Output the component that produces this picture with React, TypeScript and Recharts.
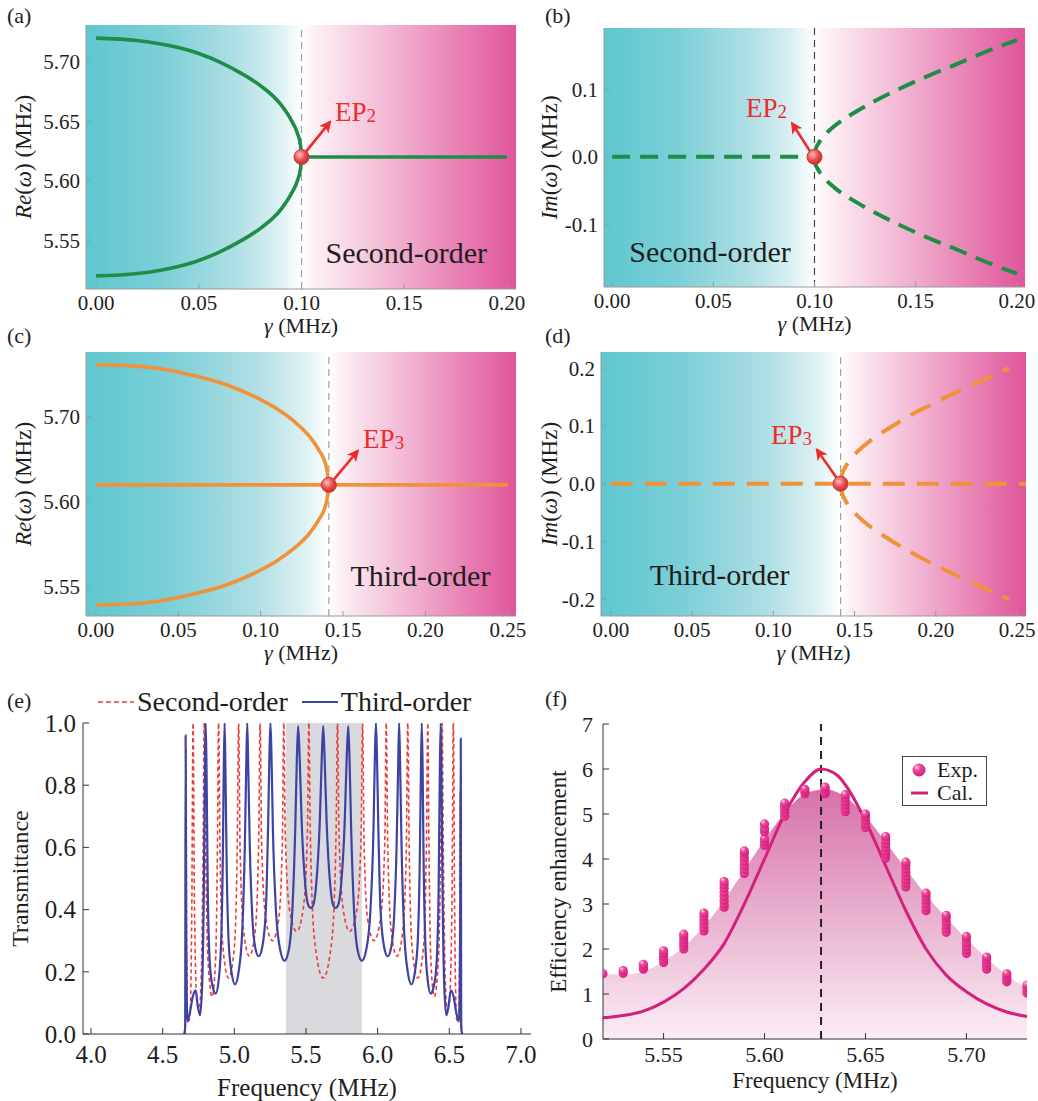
import React from 'react';
import {
  ComposedChart,
  Line,
  Area,
  Scatter,
  XAxis,
  YAxis,
  ReferenceArea,
  ReferenceLine,
  ReferenceDot,
  Legend,
} from 'recharts';

type Pt = [number, number];
type Box = [number, number, number, number];

const SERIF = '"Liberation Serif", "Times New Roman", Times, serif';
const INK = '#1e1e1e';
const EP_RED = '#ee2a2a';
const GREEN = '#1f8d48';
const ORANGE = '#f0923a';
const CAL_COLOR = '#d4207d';

// ---- (a) Re(w), second order
const A_UPPER: Pt[] = [[0, 5.72], [0.02, 5.718], [0.04, 5.712], [0.05, 5.707], [0.06, 5.7], [0.07, 5.691], [0.08, 5.68], [0.09, 5.664], [0.095, 5.651], [0.098, 5.64], [0.0995, 5.63], [0.1, 5.62]];
const A_LOWER: Pt[] = [[0, 5.52], [0.02, 5.522], [0.04, 5.528], [0.05, 5.533], [0.06, 5.54], [0.07, 5.549], [0.08, 5.56], [0.09, 5.576], [0.095, 5.589], [0.098, 5.6], [0.0995, 5.61], [0.1, 5.62]];
const A_FLAT: Pt[] = [[0.1, 5.62], [0.2, 5.62]];

// ---- (b) Im(w), second order
const B_FLAT: Pt[] = [[0, 0], [0.1, 0]];
const B_UPPER: Pt[] = [[0.1, 0], [0.1005, 0.01], [0.102, 0.02], [0.105, 0.032], [0.11, 0.046], [0.12, 0.066], [0.13, 0.083], [0.14, 0.098], [0.15, 0.112], [0.16, 0.125], [0.17, 0.137], [0.18, 0.15], [0.19, 0.162], [0.2, 0.173]];
const B_LOWER: Pt[] = [[0.1, 0], [0.1005, -0.01], [0.102, -0.02], [0.105, -0.032], [0.11, -0.046], [0.12, -0.066], [0.13, -0.083], [0.14, -0.098], [0.15, -0.112], [0.16, -0.125], [0.17, -0.137], [0.18, -0.15], [0.19, -0.162], [0.2, -0.173]];

// ---- (c) Re(w), third order
const C_UPPER: Pt[] = [[0, 5.761], [0.02, 5.76], [0.04, 5.756], [0.06, 5.748], [0.08, 5.737], [0.1, 5.72], [0.11, 5.709], [0.12, 5.695], [0.13, 5.676], [0.135, 5.662], [0.14, 5.64], [0.1414, 5.62]];
const C_LOWER: Pt[] = [[0, 5.479], [0.02, 5.48], [0.04, 5.484], [0.06, 5.492], [0.08, 5.503], [0.1, 5.52], [0.11, 5.531], [0.12, 5.545], [0.13, 5.564], [0.135, 5.578], [0.14, 5.6], [0.1414, 5.62]];
const C_FLAT: Pt[] = [[0, 5.62], [0.25, 5.62]];

// ---- (d) Im(w), third order
const D_FLAT: Pt[] = [[0, 0], [0.2555, 0]];
const D_UPPER: Pt[] = [[0.1414, 0], [0.142, 0.013], [0.145, 0.032], [0.15, 0.05], [0.16, 0.075], [0.17, 0.094], [0.18, 0.111], [0.19, 0.127], [0.2, 0.141], [0.21, 0.155], [0.22, 0.168], [0.23, 0.181], [0.245, 0.2]];
const D_LOWER: Pt[] = [[0.1414, 0], [0.142, -0.013], [0.145, -0.032], [0.15, -0.05], [0.16, -0.075], [0.17, -0.094], [0.18, -0.111], [0.19, -0.127], [0.2, -0.141], [0.21, -0.155], [0.22, -0.168], [0.23, -0.181], [0.245, -0.2]];

const GAMMA_TICKS_2 = [0, 0.05, 0.1, 0.15, 0.2];
const GAMMA_LABELS_2 = ['0.00', '0.05', '0.10', '0.15', '0.20'];
const GAMMA_TICKS_3 = [0, 0.05, 0.1, 0.15, 0.2, 0.25];
const GAMMA_LABELS_3 = ['0.00', '0.05', '0.10', '0.15', '0.20', '0.25'];
const A_Y_TICKS = [5.55, 5.6, 5.65, 5.7];
const A_Y_LABELS = ['5.55', '5.60', '5.65', '5.70'];
const B_Y_TICKS = [-0.1, 0, 0.1];
const B_Y_LABELS = ['-0.1', '0.0', '0.1'];
const C_Y_TICKS = [5.5, 5.6, 5.7];
const C_Y_LABELS = ['5.55', '5.60', '5.70'];
const D_Y_TICKS = [-0.2, -0.1, 0, 0.1, 0.2];
const D_Y_LABELS = ['-0.2', '-0.1', '0.0', '0.1', '0.2'];

// ---- (e) transmittance spectra
const E_SECOND: Pt[] = [
  [4.655, 0], [4.66, 0.1], [4.663, 0.92], [4.667, 0.3], [4.675, 0.04], [4.69, 0.05], [4.703, 0.4], [4.712, 1.0],
  [4.722, 0.4], [4.74, 0.1], [4.755, 0.08], [4.77, 0.2], [4.782, 0.6], [4.79, 1.0], [4.8, 0.6], [4.815, 0.25],
  [4.845, 0.12], [4.87, 0.25], [4.882, 0.6], [4.89, 1.0], [4.9, 0.6], [4.92, 0.28], [4.96, 0.18], [5.0, 0.28],
  [5.02, 0.6], [5.03, 1.0], [5.04, 0.6], [5.065, 0.33], [5.105, 0.25], [5.145, 0.33], [5.17, 0.62], [5.18, 1.0],
  [5.19, 0.62], [5.22, 0.37], [5.265, 0.3], [5.31, 0.37], [5.335, 0.62], [5.345, 1.0], [5.355, 0.65], [5.385, 0.4],
  [5.435, 0.33], [5.48, 0.4], [5.51, 0.65], [5.52, 1.0], [5.53, 0.65], [5.56, 0.3], [5.62, 0.18], [5.68, 0.3],
  [5.71, 0.65], [5.72, 1.0], [5.73, 0.65], [5.76, 0.4], [5.805, 0.33], [5.855, 0.4], [5.885, 0.65], [5.895, 1.0],
  [5.905, 0.62], [5.93, 0.37], [5.975, 0.3], [6.02, 0.37], [6.05, 0.62], [6.06, 1.0], [6.07, 0.62], [6.095, 0.33],
  [6.135, 0.25], [6.175, 0.33], [6.2, 0.6], [6.21, 1.0], [6.22, 0.6], [6.24, 0.28], [6.28, 0.18], [6.32, 0.28],
  [6.34, 0.6], [6.35, 1.0], [6.358, 0.6], [6.37, 0.25], [6.395, 0.12], [6.425, 0.25], [6.44, 0.6], [6.45, 1.0],
  [6.458, 0.6], [6.47, 0.2], [6.485, 0.08], [6.5, 0.1], [6.518, 0.4], [6.528, 1.0], [6.537, 0.4], [6.55, 0.05],
  [6.565, 0.04], [6.572, 0.3], [6.577, 0.78], [6.582, 0.1], [6.588, 0],
];
const E_THIRD: Pt[] = [
  [4.65, 0], [4.657, 0.02], [4.66, 0.96], [4.664, 0.35], [4.672, 0.04], [4.69, 0.07], [4.71, 0.12], [4.73, 0.14],
  [4.745, 0.09], [4.76, 0.06], [4.775, 0.15], [4.788, 0.5], [4.795, 0.85], [4.8, 1.0], [4.806, 0.85], [4.815, 0.45],
  [4.83, 0.22], [4.85, 0.15], [4.87, 0.13], [4.89, 0.17], [4.908, 0.3], [4.92, 0.58], [4.926, 0.85], [4.932, 1.0],
  [4.938, 0.85], [4.946, 0.56], [4.96, 0.3], [4.98, 0.2], [5.005, 0.16], [5.03, 0.2], [5.055, 0.33], [5.073, 0.6],
  [5.083, 0.86], [5.09, 1.0], [5.097, 0.86], [5.108, 0.6], [5.125, 0.38], [5.145, 0.28], [5.17, 0.25], [5.195, 0.28],
  [5.22, 0.4], [5.236, 0.68], [5.245, 0.9], [5.252, 1.0], [5.259, 0.9], [5.269, 0.66], [5.29, 0.4], [5.32, 0.27],
  [5.35, 0.235], [5.38, 0.27], [5.405, 0.4], [5.425, 0.66], [5.436, 0.88], [5.445, 0.99], [5.455, 0.9], [5.47, 0.68],
  [5.495, 0.48], [5.515, 0.415], [5.533, 0.405], [5.551, 0.415], [5.571, 0.48], [5.596, 0.68], [5.611, 0.9],
  [5.62, 0.99], [5.629, 0.9], [5.644, 0.68], [5.669, 0.48], [5.689, 0.415], [5.707, 0.405], [5.725, 0.415],
  [5.745, 0.48], [5.77, 0.68], [5.785, 0.9], [5.795, 0.99], [5.804, 0.88], [5.815, 0.66], [5.835, 0.4], [5.86, 0.27],
  [5.89, 0.235], [5.92, 0.27], [5.95, 0.4], [5.971, 0.66], [5.981, 0.9], [5.988, 1.0], [5.995, 0.9], [6.004, 0.68],
  [6.02, 0.4], [6.045, 0.28], [6.07, 0.25], [6.095, 0.28], [6.115, 0.38], [6.132, 0.6], [6.143, 0.86], [6.15, 1.0],
  [6.157, 0.86], [6.167, 0.6], [6.185, 0.33], [6.21, 0.2], [6.235, 0.16], [6.26, 0.2], [6.28, 0.3], [6.294, 0.56],
  [6.302, 0.85], [6.308, 1.0], [6.314, 0.85], [6.32, 0.58], [6.332, 0.3], [6.35, 0.17], [6.37, 0.13], [6.39, 0.15],
  [6.41, 0.22], [6.425, 0.45], [6.434, 0.85], [6.44, 1.0], [6.445, 0.85], [6.452, 0.5], [6.465, 0.15], [6.48, 0.06],
  [6.495, 0.09], [6.51, 0.14], [6.53, 0.12], [6.548, 0.07], [6.568, 0.04], [6.576, 0.35], [6.58, 0.95], [6.583, 0.02],
  [6.59, 0],
];
const E_X_TICKS = [4, 4.5, 5, 5.5, 6, 6.5, 7];
const E_X_LABELS = ['4.0', '4.5', '5.0', '5.5', '6.0', '6.5', '7.0'];
const E_Y_TICKS = [0, 0.2, 0.4, 0.6, 0.8, 1];
const E_Y_LABELS = ['0.0', '0.2', '0.4', '0.6', '0.8', '1.0'];
const E_BAND: Pt = [5.36, 5.89];

// ---- (f) efficiency enhancement
const F_CAL: Pt[] = [
  [5.52, 0.47], [5.53, 0.52], [5.54, 0.62], [5.55, 0.82], [5.56, 1.12], [5.57, 1.55], [5.58, 2.12], [5.59, 3.0],
  [5.6, 4.0], [5.61, 5.0], [5.62, 5.72], [5.628, 6.0], [5.636, 5.86], [5.64, 5.65], [5.65, 4.85], [5.66, 3.85],
  [5.67, 2.85], [5.68, 2.0], [5.69, 1.42], [5.7, 1.05], [5.71, 0.78], [5.72, 0.6], [5.73, 0.5],
];
const F_ENVELOPE: Pt[] = [
  [5.52, 1.45], [5.53, 1.43], [5.54, 1.5], [5.55, 1.72], [5.56, 2.05], [5.57, 2.5], [5.58, 3.08], [5.59, 3.75],
  [5.6, 4.42], [5.61, 5.02], [5.62, 5.45], [5.63, 5.55], [5.64, 5.38], [5.65, 4.95], [5.66, 4.38], [5.67, 3.78],
  [5.68, 3.2], [5.69, 2.7], [5.7, 2.22], [5.71, 1.8], [5.72, 1.42], [5.73, 1.12],
];
const F_EXP_FREQ = [5.52, 5.53, 5.54, 5.55, 5.56, 5.57, 5.58, 5.59, 5.6, 5.61, 5.62, 5.63, 5.64, 5.65, 5.66, 5.67, 5.68, 5.69, 5.7, 5.71, 5.72, 5.73];
const F_EXP_VALUES = [
  [1.45],
  [1.46, 1.52],
  [1.55, 1.6, 1.66],
  [1.7, 1.77, 1.84, 1.9, 1.96],
  [2.0, 2.07, 2.14, 2.2, 2.27, 2.33],
  [2.4, 2.48, 2.56, 2.64, 2.72, 2.8],
  [2.93, 3.0, 3.08, 3.17, 3.26, 3.35, 3.43, 3.5],
  [3.68, 3.77, 3.86, 3.95, 4.04, 4.13, 4.18],
  [4.3, 4.38, 4.45, 4.6, 4.68, 4.78],
  [4.95, 5.03, 5.1, 5.17, 5.24],
  [5.45, 5.5, 5.55],
  [5.45, 5.5, 5.56, 5.6],
  [5.05, 5.12, 5.2, 5.28, 5.36, 5.43],
  [4.7, 4.78, 4.86, 4.94, 5.0],
  [4.02, 4.1, 4.18, 4.26, 4.34, 4.42, 4.5],
  [3.38, 3.46, 3.54, 3.62, 3.7, 3.78, 3.86, 3.93],
  [2.85, 2.93, 3.01, 3.09, 3.17, 3.24],
  [2.37, 2.45, 2.53, 2.61, 2.69, 2.75],
  [1.9, 1.98, 2.06, 2.14, 2.22, 2.28],
  [1.55, 1.62, 1.69, 1.76, 1.82],
  [1.27, 1.33, 1.39, 1.45],
  [1.02, 1.08, 1.14, 1.2],
];
const F_PEAK = 5.628;
const F_X_TICKS = [5.55, 5.6, 5.65, 5.7];
const F_X_LABELS = ['5.55', '5.60', '5.65', '5.70'];
const F_Y_TICKS = [0, 1, 2, 3, 4, 5, 6, 7];
const F_Y_LABELS = ['0', '1', '2', '3', '4', '5', '6', '7'];

const toRows = (pts: Pt[]) => pts.map(([x, v]) => ({ g: x, v }));

// tick text drawn by hand so that the serif face and size stick
const makeTick = (ticks: number[], labels: string[], size: number, side: 'bottom' | 'left') => (tp: any) => {
  const value = tp?.payload?.value;
  const i = ticks.indexOf(value);
  const text = i >= 0 ? labels[i] : '';
  return (
    <text
      x={tp.x}
      y={tp.y}
      dy={side === 'bottom' ? '0.71em' : '0.35em'}
      textAnchor={side === 'bottom' ? 'middle' : 'end'}
      fontFamily={SERIF}
      fontSize={size}
      fill={INK}
    >
      {text}
    </text>
  );
};

const xTitle = (dy: number, size: number, body: React.ReactNode) => (lp: any) => {
  const vb = lp.viewBox ?? {};
  return (
    <text x={vb.x + vb.width / 2} y={vb.y + dy} dy="0.35em" textAnchor="middle" fontFamily={SERIF} fontSize={size} fill={INK}>
      {body}
    </text>
  );
};

const yTitle = (offset: number, size: number, body: React.ReactNode) => (lp: any) => {
  const vb = lp.viewBox ?? {};
  const cx = vb.x + vb.width - offset;
  const cy = vb.y + vb.height / 2;
  return (
    <text x={cx} y={cy} dy="0.35em" transform={`rotate(-90 ${cx} ${cy})`} textAnchor="middle" fontFamily={SERIF} fontSize={size} fill={INK}>
      {body}
    </text>
  );
};

const gammaTitle = (
  <>
    <tspan fontStyle="italic">γ</tspan> (MHz)
  </>
);

interface EigenProps {
  id: string;
  box: Box;
  frame: Box;
  xDomain: [number, number];
  yDomain: [number, number];
  xTicks: number[];
  xLabels: string[];
  yTicks: number[];
  yLabels: string[];
  solid: Pt[][];
  dashed: Pt[][];
  color: string;
  dash: string;
  ep: Pt;
  arrow: [Pt, Pt];
  epLabel: Pt;
  epAnchor: 'start' | 'end';
  epSub: string;
  region: Pt;
  regionText: string;
  yPart: string;
  yTitleOffset: number;
  guide: string;
}

function EigenPanel(p: EigenProps) {
  const [bl, bt, br, bb] = p.box;
  const [fl, ft, fr, fb] = p.frame;
  const [x0, x1] = p.xDomain;
  const [y0, y1] = p.yDomain;
  const frameColor = '#9a9a9a';
  return (
    <div style={{ position: 'absolute', left: bl, top: bt }}>
      <ComposedChart width={br - bl} height={bb - bt} margin={{ top: ft - bt, right: br - fr, bottom: 0, left: 0 }}>
        <defs>
          <linearGradient id={`${p.id}-cyan`} x1="0" y1="0" x2="1" y2="0">
            <stop offset="0" stopColor="#5ec7d0" />
            <stop offset="0.35" stopColor="#7ccfd7" />
            <stop offset="0.7" stopColor="#b0dfe5" />
            <stop offset="0.9" stopColor="#dcf1f3" />
            <stop offset="1" stopColor="#ffffff" />
          </linearGradient>
          <linearGradient id={`${p.id}-pink`} x1="0" y1="0" x2="1" y2="0">
            <stop offset="0" stopColor="#ffffff" />
            <stop offset="0.05" stopColor="#fdf2f6" />
            <stop offset="1" stopColor="#e0559a" />
          </linearGradient>
          <radialGradient id={`${p.id}-ep`} cx="0.38" cy="0.35" r="0.7">
            <stop offset="0" stopColor="#ffc0c0" />
            <stop offset="0.55" stopColor="#ea4a4a" />
            <stop offset="1" stopColor="#c42a2a" />
          </radialGradient>
          <marker id={`${p.id}-head`} markerWidth="12" markerHeight="12" refX="10" refY="6" orient="auto" markerUnits="userSpaceOnUse">
            <path d="M0,0 L12,6 L0,12 L3,6 Z" fill={EP_RED} />
          </marker>
        </defs>
        <XAxis
          type="number"
          dataKey="g"
          domain={p.xDomain}
          allowDataOverflow
          ticks={p.xTicks}
          interval={0}
          tick={makeTick(p.xTicks, p.xLabels, 21, 'bottom')}
          tickSize={-5}
          tickMargin={11}
          stroke={frameColor}
          height={bb - fb}
          label={xTitle(36, 22, gammaTitle)}
        />
        <XAxis xAxisId="top" orientation="top" type="number" domain={p.xDomain} allowDataOverflow ticks={p.xTicks} interval={0} tick={false} tickSize={-5} stroke={frameColor} height={0} />
        <YAxis
          type="number"
          dataKey="v"
          domain={p.yDomain}
          allowDataOverflow
          ticks={p.yTicks}
          interval={0}
          tick={makeTick(p.yTicks, p.yLabels, 21, 'left')}
          tickSize={-5}
          tickMargin={11}
          stroke={frameColor}
          width={fl - bl}
          label={yTitle(p.yTitleOffset, 23, (
            <>
              <tspan fontStyle="italic">{p.yPart}</tspan>(<tspan fontStyle="italic">ω</tspan>) (MHz)
            </>
          ))}
        />
        <YAxis yAxisId="right" orientation="right" type="number" domain={p.yDomain} allowDataOverflow ticks={p.yTicks} interval={0} tick={false} tickSize={-5} stroke={frameColor} width={0} />

        <ReferenceArea x1={x0} x2={p.ep[0]} y1={y0} y2={y1} fill={`url(#${p.id}-cyan)`} fillOpacity={1} stroke="none" />
        <ReferenceArea x1={p.ep[0]} x2={x1} y1={y0} y2={y1} fill={`url(#${p.id}-pink)`} fillOpacity={1} stroke="none" />
        <ReferenceLine x={p.ep[0]} stroke={p.guide} strokeDasharray="7 5" strokeWidth={1.2} />

        {p.solid.map((seg, i) => (
          <Line key={`s${i}`} data={toRows(seg)} dataKey="v" type="monotone" stroke={p.color} strokeWidth={3.6} dot={false} activeDot={false} isAnimationActive={false} />
        ))}
        {p.dashed.map((seg, i) => (
          <Line key={`d${i}`} data={toRows(seg)} dataKey="v" type="monotone" stroke={p.color} strokeWidth={4} strokeDasharray={p.dash} dot={false} activeDot={false} isAnimationActive={false} />
        ))}

        <ReferenceDot x={p.ep[0]} y={p.ep[1]} r={7.5} fill={`url(#${p.id}-ep)`} fillOpacity={1} stroke="#c83a3a" strokeWidth={1} />
        <ReferenceLine
          segment={[{ x: p.arrow[0][0], y: p.arrow[0][1] }, { x: p.arrow[1][0], y: p.arrow[1][1] }]}
          shape={(lp: any) => (
            <line x1={lp.x1} y1={lp.y1} x2={lp.x2} y2={lp.y2} stroke={EP_RED} strokeWidth={2.6} markerEnd={`url(#${p.id}-head)`} />
          )}
        />
        <ReferenceDot
          x={p.epLabel[0]}
          y={p.epLabel[1]}
          r={0}
          shape={(dp: any) => (
            <text x={dp.cx} y={dp.cy} dy="0.35em" textAnchor={p.epAnchor} fontFamily={SERIF} fontSize={27} fill={EP_RED}>
              EP<tspan fontSize={19} dy={1}>{p.epSub}</tspan>
            </text>
          )}
        />
        <ReferenceDot
          x={p.region[0]}
          y={p.region[1]}
          r={0}
          shape={(dp: any) => (
            <text x={dp.cx} y={dp.cy} dy="0.35em" textAnchor="middle" fontFamily={SERIF} fontSize={30} fill={INK}>
              {p.regionText}
            </text>
          )}
        />
      </ComposedChart>
    </div>
  );
}

const E_LEGEND_DASH = ['5 3', undefined];

const renderTransLegend = (props: any) => (
  <div style={{ display: 'inline-flex', alignItems: 'center', fontFamily: SERIF, fontSize: 28, color: INK, whiteSpace: 'nowrap', lineHeight: '32px' }}>
    {(props.payload ?? []).map((entry: any, i: number) => (
      <span key={String(entry.value)} style={{ display: 'inline-flex', alignItems: 'center', marginRight: 14 }}>
        <svg width={36} height={10}>
          <line x1={0} y1={5} x2={36} y2={5} stroke={entry.color} strokeWidth={i === 0 ? 1.6 : 2.2} strokeDasharray={E_LEGEND_DASH[i]} />
        </svg>
        <span style={{ marginLeft: 3 }}>{entry.value}</span>
      </span>
    ))}
  </div>
);

function TransmittancePanel() {
  const box: Box = [0, 660, 540, 1101];
  const frame: Box = [83, 723, 531, 1034];
  const frameColor = '#333333';
  return (
    <div style={{ position: 'absolute', left: box[0], top: box[1] }}>
      <ComposedChart width={box[2] - box[0]} height={box[3] - box[1]} margin={{ top: frame[1] - box[1], right: box[2] - frame[2], bottom: 0, left: 0 }}>
        <XAxis type="number" dataKey="g" domain={[3.944, 7.07]} allowDataOverflow ticks={E_X_TICKS} interval={0} tick={makeTick(E_X_TICKS, E_X_LABELS, 25, 'bottom')} tickSize={-6} tickMargin={17} stroke={frameColor} height={box[3] - frame[3]} label={xTitle(53, 25, 'Frequency (MHz)')} />
        <XAxis xAxisId="top" orientation="top" type="number" domain={[3.944, 7.07]} allowDataOverflow ticks={E_X_TICKS} interval={0} tick={false} tickSize={-6} stroke={frameColor} height={0} />
        <YAxis type="number" dataKey="v" domain={[0, 1]} allowDataOverflow ticks={E_Y_TICKS} interval={0} tick={makeTick(E_Y_TICKS, E_Y_LABELS, 25, 'left')} tickSize={-6} tickMargin={13} stroke={frameColor} width={frame[0] - box[0]} label={yTitle(63, 24, 'Transmittance')} />
        <YAxis yAxisId="right" orientation="right" type="number" domain={[0, 1]} allowDataOverflow ticks={E_Y_TICKS} interval={0} tick={false} tickSize={-6} stroke={frameColor} width={0} />
        <ReferenceArea x1={E_BAND[0]} x2={E_BAND[1]} y1={0} y2={1} fill="#d9dadd" fillOpacity={1} stroke="none" />
        <Line name="Second-order" data={toRows(E_SECOND)} dataKey="v" type="monotone" stroke="#f03a3a" strokeWidth={1.6} strokeDasharray="4 3" dot={false} activeDot={false} isAnimationActive={false} />
        <Line name="Third-order" data={toRows(E_THIRD)} dataKey="v" type="monotone" stroke="#3d43a3" strokeWidth={2.2} dot={false} activeDot={false} isAnimationActive={false} />
        <Legend layout="horizontal" verticalAlign="middle" align="center" content={renderTransLegend} wrapperStyle={{ top: 26, left: 98, width: 'auto', height: 'auto' }} />
      </ComposedChart>
    </div>
  );
}

const renderEffLegend = () => (
  <div style={{ display: 'inline-block', border: '1.5px solid #444', background: '#fff', padding: '1px 8px 1px 6px', fontFamily: SERIF, fontSize: 22, color: INK, lineHeight: '23px' }}>
    <div style={{ display: 'flex', alignItems: 'center', height: 23 }}>
      <svg width={22} height={18}>
        <circle cx={10} cy={9} r={6.5} fill="url(#f-sphere)" />
      </svg>
      <span style={{ marginLeft: 6 }}>Exp.</span>
    </div>
    <div style={{ display: 'flex', alignItems: 'center', height: 23 }}>
      <svg width={22} height={18}>
        <line x1={2} y1={9} x2={19} y2={9} stroke={CAL_COLOR} strokeWidth={3} />
      </svg>
      <span style={{ marginLeft: 6 }}>Cal.</span>
    </div>
  </div>
);

function EfficiencyPanel() {
  const box: Box = [540, 660, 1038, 1101];
  const frame: Box = [603, 724, 1027, 1039];
  const frameColor = '#333333';
  const exp = F_EXP_FREQ.flatMap((f, i) => F_EXP_VALUES[i].map((v) => ({ g: f, v })));
  return (
    <div style={{ position: 'absolute', left: box[0], top: box[1] }}>
      <ComposedChart width={box[2] - box[0]} height={box[3] - box[1]} margin={{ top: frame[1] - box[1], right: box[2] - frame[2], bottom: 0, left: 0 }}>
        <defs>
          <linearGradient id="f-area" x1="0" y1="0" x2="0" y2="1">
            <stop offset="0" stopColor="#d672a8" />
            <stop offset="1" stopColor="#fbeef5" />
          </linearGradient>
          <radialGradient id="f-sphere" cx="0.35" cy="0.3" r="0.75">
            <stop offset="0" stopColor="#ffd6ea" />
            <stop offset="0.35" stopColor="#f0479a" />
            <stop offset="1" stopColor="#d01c78" />
          </radialGradient>
        </defs>
        <XAxis type="number" dataKey="g" domain={[5.52, 5.73]} allowDataOverflow ticks={F_X_TICKS} interval={0} tick={makeTick(F_X_TICKS, F_X_LABELS, 22, 'bottom')} tickSize={-6} tickMargin={13} stroke={frameColor} height={box[3] - frame[3]} label={xTitle(41, 23, 'Frequency (MHz)')} />
        <XAxis xAxisId="top" orientation="top" type="number" domain={[5.52, 5.73]} allowDataOverflow ticks={F_X_TICKS} interval={0} tick={false} tickSize={-6} stroke={frameColor} height={0} />
        <YAxis type="number" dataKey="v" domain={[0, 7]} allowDataOverflow ticks={F_Y_TICKS} interval={0} tick={makeTick(F_Y_TICKS, F_Y_LABELS, 22, 'left')} tickSize={-6} tickMargin={16} stroke={frameColor} width={frame[0] - box[0]} label={yTitle(45, 23, 'Efficiency enhancement')} />
        <YAxis yAxisId="right" orientation="right" type="number" domain={[0, 7]} allowDataOverflow ticks={F_Y_TICKS} interval={0} tick={false} tickSize={-6} stroke={frameColor} width={0} />
        <Area data={toRows(F_ENVELOPE)} dataKey="v" type="monotone" fill="url(#f-area)" fillOpacity={1} stroke="none" dot={false} activeDot={false} isAnimationActive={false} />
        <ReferenceLine x={F_PEAK} stroke="#222" strokeDasharray="8 6" strokeWidth={2} />
        <Line name="Cal." data={toRows(F_CAL)} dataKey="v" type="monotone" stroke={CAL_COLOR} strokeWidth={3} dot={false} activeDot={false} isAnimationActive={false} />
        <Scatter
          name="Exp."
          data={exp}
          dataKey="v"
          isAnimationActive={false}
          shape={(sp: any) => <circle cx={sp.cx} cy={sp.cy} r={4.6} fill="url(#f-sphere)" />}
        />
        <Legend layout="horizontal" verticalAlign="middle" align="center" content={renderEffLegend} wrapperStyle={{ top: 96, left: 362, width: 'auto', height: 'auto' }} />
      </ComposedChart>
    </div>
  );
}

const PANEL_TAGS: { text: string; left: number; top: number }[] = [
  { text: '(a)', left: 7, top: 5 },
  { text: '(b)', left: 545, top: 5 },
  { text: '(c)', left: 7, top: 325 },
  { text: '(d)', left: 545, top: 325 },
  { text: '(e)', left: 7, top: 690 },
  { text: '(f)', left: 545, top: 688 },
];

export default function App() {
  return (
    <div style={{ position: 'absolute', left: 0, top: 0, width: 1038, height: 1101, background: '#ffffff', fontFamily: SERIF, overflow: 'hidden' }}>
      <EigenPanel
        id="a"
        box={[0, 0, 530, 340]}
        frame={[86, 25, 516, 289]}
        xDomain={[-0.0049, 0.2044]}
        yDomain={[5.509, 5.731]}
        xTicks={GAMMA_TICKS_2}
        xLabels={GAMMA_LABELS_2}
        yTicks={A_Y_TICKS}
        yLabels={A_Y_LABELS}
        solid={[A_UPPER, A_LOWER, A_FLAT]}
        dashed={[]}
        color={GREEN}
        dash=""
        ep={[0.1, 5.62]}
        arrow={[[0.1015, 5.623], [0.1139, 5.6495]]}
        epLabel={[0.1163, 5.658]}
        epAnchor="start"
        epSub="2"
        region={[0.151, 5.54]}
        regionText="Second-order"
        yPart="Re"
        yTitleOffset={63}
        guide="#a0a0a0"
      />
      <EigenPanel
        id="b"
        box={[520, 0, 1038, 340]}
        frame={[604, 28, 1025, 287]}
        xDomain={[-0.004, 0.204]}
        yDomain={[-0.193, 0.191]}
        xTicks={GAMMA_TICKS_2}
        xLabels={GAMMA_LABELS_2}
        yTicks={B_Y_TICKS}
        yLabels={B_Y_LABELS}
        solid={[]}
        dashed={[B_FLAT, B_UPPER, B_LOWER]}
        color={GREEN}
        dash="18 10"
        ep={[0.1, 0]}
        arrow={[[0.0985, 0.005], [0.0889, 0.05]]}
        epLabel={[0.0864, 0.073]}
        epAnchor="end"
        epSub="2"
        region={[0.0484, -0.141]}
        regionText="Second-order"
        yPart="Im"
        yTitleOffset={55}
        guide="#444444"
      />
      <EigenPanel
        id="c"
        box={[0, 320, 530, 672]}
        frame={[86, 352, 516, 616]}
        xDomain={[-0.006, 0.255]}
        yDomain={[5.466, 5.776]}
        xTicks={GAMMA_TICKS_3}
        xLabels={GAMMA_LABELS_3}
        yTicks={C_Y_TICKS}
        yLabels={C_Y_LABELS}
        solid={[C_UPPER, C_LOWER, C_FLAT]}
        dashed={[]}
        color={ORANGE}
        dash=""
        ep={[0.1414, 5.62]}
        arrow={[[0.143, 5.623], [0.159, 5.66]]}
        epLabel={[0.1622, 5.674]}
        epAnchor="start"
        epSub="3"
        region={[0.197, 5.513]}
        regionText="Third-order"
        yPart="Re"
        yTitleOffset={63}
        guide="#a0a0a0"
      />
      <EigenPanel
        id="d"
        box={[520, 320, 1038, 672]}
        frame={[601, 352, 1026, 616]}
        xDomain={[-0.006, 0.2555]}
        yDomain={[-0.229, 0.228]}
        xTicks={GAMMA_TICKS_3}
        xLabels={GAMMA_LABELS_3}
        yTicks={D_Y_TICKS}
        yLabels={D_Y_LABELS}
        solid={[]}
        dashed={[D_FLAT, D_UPPER, D_LOWER]}
        color={ORANGE}
        dash="22 12"
        ep={[0.1414, 0]}
        arrow={[[0.14, 0.006], [0.1268, 0.059]]}
        epLabel={[0.1238, 0.085]}
        epAnchor="end"
        epSub="3"
        region={[0.067, -0.157]}
        regionText="Third-order"
        yPart="Im"
        yTitleOffset={52}
        guide="#a0a0a0"
      />
      <TransmittancePanel />
      <EfficiencyPanel />
      {PANEL_TAGS.map((t) => (
        <div key={t.text} style={{ position: 'absolute', left: t.left, top: t.top, fontSize: 22, lineHeight: '22px', color: INK, fontFamily: SERIF }}>
          {t.text}
        </div>
      ))}
    </div>
  );
}
